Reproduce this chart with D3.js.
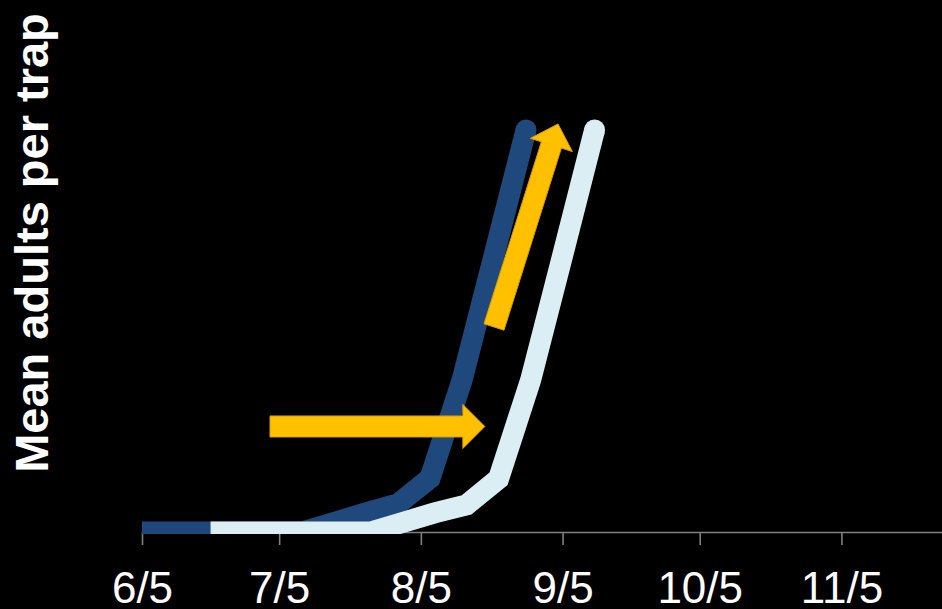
<!DOCTYPE html>
<html>
<head>
<meta charset="utf-8">
<script src="https://cdn.jsdelivr.net/npm/d3@7"></script>
<style>
  html, body { margin: 0; padding: 0; background: #000; }
  svg { display: block; }
</style>
</head>
<body>
<div id="chart"></div>
<script>
// weekly trap counts, early site (dark) and late site (light)
const darkDates = ["2010-06-05","2010-06-12","2010-06-19","2010-06-26","2010-07-03","2010-07-10","2010-07-17",
                   "2010-07-24","2010-07-31","2010-08-07","2010-08-14","2010-08-21","2010-08-28"];
const darkValues = [0, 0, 0, 0, 0, 0, 0.95, 1.9, 2.8, 5.35, 15.1, 27.5, 40];

const lightDates = ["2010-06-20","2010-06-27","2010-07-04","2010-07-11","2010-07-18","2010-07-25","2010-08-01",
                    "2010-08-08","2010-08-15","2010-08-22","2010-08-29","2010-09-05","2010-09-12"];
const lightValues = [0, 0, 0, 0, 0, 0, 0.95, 1.9, 2.7, 5.3, 15.1, 27.5, 40];

const tickDates = ["2010-06-05","2010-07-05","2010-08-05","2010-09-05","2010-10-05","2010-11-05"];
const tickLabels = ["6/5", "7/5", "8/5", "9/5", "10/5", "11/5"];

// annotation arrows: [tail date, tail value, tip date, tip value]
const arrowFlat = ["2010-07-03", 10.5, "2010-08-19", 10.5];
const arrowUp = ["2010-08-21", 20.4, "2010-09-04", 40.6];

const width = 942, height = 609;
const parse = d3.timeParse("%Y-%m-%d");

const svg = d3.select('#chart')
    .append('svg')
    .attr('width', width)
    .attr('height', height)
    .style('background', '#000');

const x = d3.scaleTime()
    .domain([parse("2010-06-05"), parse("2010-11-27")])
    .range([142, 942]);

const y = d3.scaleLinear()
    .domain([0, 40])
    .range([532, 130]);

// plot area clip, the thick lines get cut at the bottom edge
svg.append('defs')
    .append('clipPath')
    .attr('id', 'plot-clip')
    .append('rect')
    .attr('x', 0)
    .attr('y', 0)
    .attr('width', width)
    .attr('height', y(0) + 2);

// x axis
const axis = d3.axisBottom(x)
    .tickValues(tickDates.map(parse))
    .tickFormat((d, i) => tickLabels[i])
    .tickSize(13)
    .tickSizeOuter(0);

const gx = svg.append('g')
    .attr('transform', `translate(0,${y(0)})`)
    .call(axis);

gx.select('.domain')
    .attr('stroke', '#808080')
    .attr('stroke-width', 1.6);
gx.selectAll('.tick line')
    .attr('stroke', '#808080')
    .attr('stroke-width', 1.6);
gx.selectAll('.tick text')
    .attr('fill', '#fff')
    .attr('y', 71)
    .attr('dy', 0)
    .attr('font-family', '"Liberation Sans", Arial, sans-serif')
    .attr('font-size', '44px');

// y axis title
svg.append('text')
    .attr('transform', 'translate(48,243) rotate(-90)')
    .attr('text-anchor', 'middle')
    .attr('font-family', '"Liberation Sans", Arial, sans-serif')
    .attr('font-weight', 'bold')
    .attr('font-size', '47px')
    .attr('fill', '#fff')
    .text('Mean adults per trap');

const lineW = 21;
const gLines = svg.append('g')
    .attr('clip-path', 'url(#plot-clip)');

const line = d3.line()
    .x(d => x(d.date))
    .y(d => y(d.value));

function drawSeries(dates, values, color) {
    const pts = dates.map((d, i) => ({date: parse(d), value: values[i]}));
    gLines.append('path')
        .datum(pts)
        .attr('d', line)
        .attr('fill', 'none')
        .attr('stroke', color)
        .attr('stroke-width', lineW)
        .attr('stroke-linejoin', 'miter')
        .attr('stroke-linecap', 'butt');
    // round cap only at the end of the series
    const last = pts[pts.length - 1];
    gLines.append('circle')
        .attr('cx', x(last.date))
        .attr('cy', y(last.value))
        .attr('r', lineW / 2)
        .attr('fill', color);
}

drawSeries(darkDates, darkValues, '#1f497d');
drawSeries(lightDates, lightValues, '#daeef3');

// block arrows
function arrowPath(a) {
    const x1 = x(parse(a[0])), y1 = y(a[1]);
    const x2 = x(parse(a[2])), y2 = y(a[3]);
    const len = Math.hypot(x2 - x1, y2 - y1);
    const ux = (x2 - x1) / len, uy = (y2 - y1) / len;
    const nx = -uy, ny = ux;
    const shaft = 10.5, head = 22, headLen = 22;
    const bx = x2 - ux * headLen, by = y2 - uy * headLen;
    const pts = [
        [x1 + nx * shaft, y1 + ny * shaft],
        [bx + nx * shaft, by + ny * shaft],
        [bx + nx * head, by + ny * head],
        [x2, y2],
        [bx - nx * head, by - ny * head],
        [bx - nx * shaft, by - ny * shaft],
        [x1 - nx * shaft, y1 - ny * shaft]
    ];
    return 'M' + pts.map(p => p.join(',')).join('L') + 'Z';
}

[arrowFlat, arrowUp].forEach(a => {
    svg.append('path')
        .attr('d', arrowPath(a))
        .attr('fill', '#ffc000')
        .attr('stroke', '#d9a000')
        .attr('stroke-width', 1);
});
</script>
</body>
</html>
